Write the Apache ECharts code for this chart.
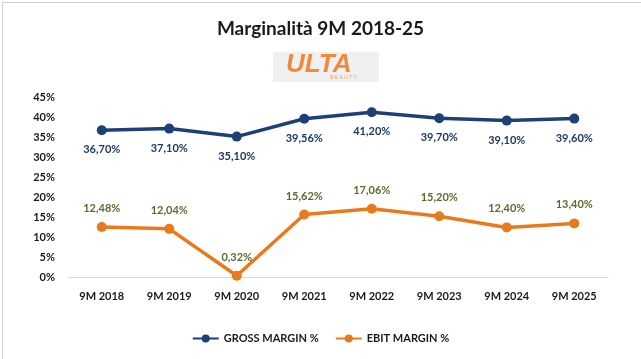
<!DOCTYPE html>
<html><head><meta charset="utf-8">
<script src="https://cdn.jsdelivr.net/npm/echarts@6/dist/echarts.min.js"></script>
<style>html,body{margin:0;padding:0;background:#fff}#c{width:641px;height:359px}</style>
</head><body><div id="c"></div>
<script>
const categories = ['9M 2018','9M 2019','9M 2020','9M 2021','9M 2022','9M 2023','9M 2024','9M 2025'];
const grossMargin = [36.70, 37.10, 35.10, 39.56, 41.20, 39.70, 39.10, 39.60];
const ebitMargin = [12.48, 12.04, 0.32, 15.62, 17.06, 15.20, 12.40, 13.40];
const yTicks = [0, 5, 10, 15, 20, 25, 30, 35, 40, 45];

const fmt = v => v.toFixed(2).replace('.', ',') + '%';
const font = 'Lato, "Open Sans", sans-serif';
const chart = echarts.init(document.getElementById('c'));
chart.setOption({
  animation: false,
  backgroundColor: '#fff',
  title: {
    text: 'Marginalità 9M 2018-25', left: 'center', top: 14,
    textStyle: {fontFamily: font, fontSize: 19, fontWeight: 'bold', color: '#1a1a1a'}
  },
  graphic: [
    {type: 'rect', left: 0, top: 0, shape: {width: 640, height: 358},
     style: {fill: 'none', stroke: '#d0d0d0', lineWidth: 1}, silent: true},
    {type: 'rect', left: 273, top: 52, shape: {width: 106, height: 30},
     style: {fill: '#f0f0f0'}},
    {type: 'text', left: 286, top: 52,
     style: {text: 'ULTA', fill: '#f08a3a', font: 'bold italic 26px "Liberation Sans", sans-serif'}},
    {type: 'text', left: 330, top: 75,
     style: {text: 'B E A U T Y', fill: '#f0a060', font: '5px sans-serif'}}
  ],
  legend: {
    bottom: 10, left: 'center', itemWidth: 26, itemHeight: 10, itemGap: 16,
    textStyle: {fontFamily: font, fontSize: 11, fontWeight: 'bold', color: '#1a1a1a'},
    data: ['GROSS MARGIN %', 'EBIT MARGIN %']
  },
  grid: {left: 68, right: 33, top: 97, bottom: 82},
  xAxis: {
    type: 'category', data: categories, boundaryGap: true,
    axisLine: {lineStyle: {color: '#d9d9d9'}}, axisTick: {show: false},
    axisLabel: {fontFamily: font, fontSize: 11, fontWeight: 'bold', color: '#1a1a1a', margin: 14}
  },
  yAxis: {
    type: 'value', min: yTicks[0], max: yTicks[yTicks.length - 1], interval: 5,
    splitLine: {show: false}, axisLine: {show: false}, axisTick: {show: false},
    axisLabel: {formatter: '{value}%', fontFamily: font, fontSize: 11, fontWeight: 'bold', color: '#1a1a1a', margin: 13}
  },
  series: [
    {name: 'GROSS MARGIN %', type: 'line', data: grossMargin, symbol: 'circle', symbolSize: 10,
     lineStyle: {color: '#1f3f77', width: 3.5}, itemStyle: {color: '#1f3f77'},
     label: {show: true, position: 'bottom', distance: 9, formatter: p => fmt(p.value),
       fontFamily: font, fontSize: 11, fontWeight: 'bold', color: '#1f3864'}},
    {name: 'EBIT MARGIN %', type: 'line', data: ebitMargin, symbol: 'circle', symbolSize: 10,
     lineStyle: {color: '#e87a1e', width: 3.5}, itemStyle: {color: '#e87a1e'},
     label: {show: true, position: 'top', distance: 8, formatter: p => fmt(p.value),
       fontFamily: font, fontSize: 11, fontWeight: 'bold', color: '#5b6b2e'}}
  ]
});
</script></body></html>
